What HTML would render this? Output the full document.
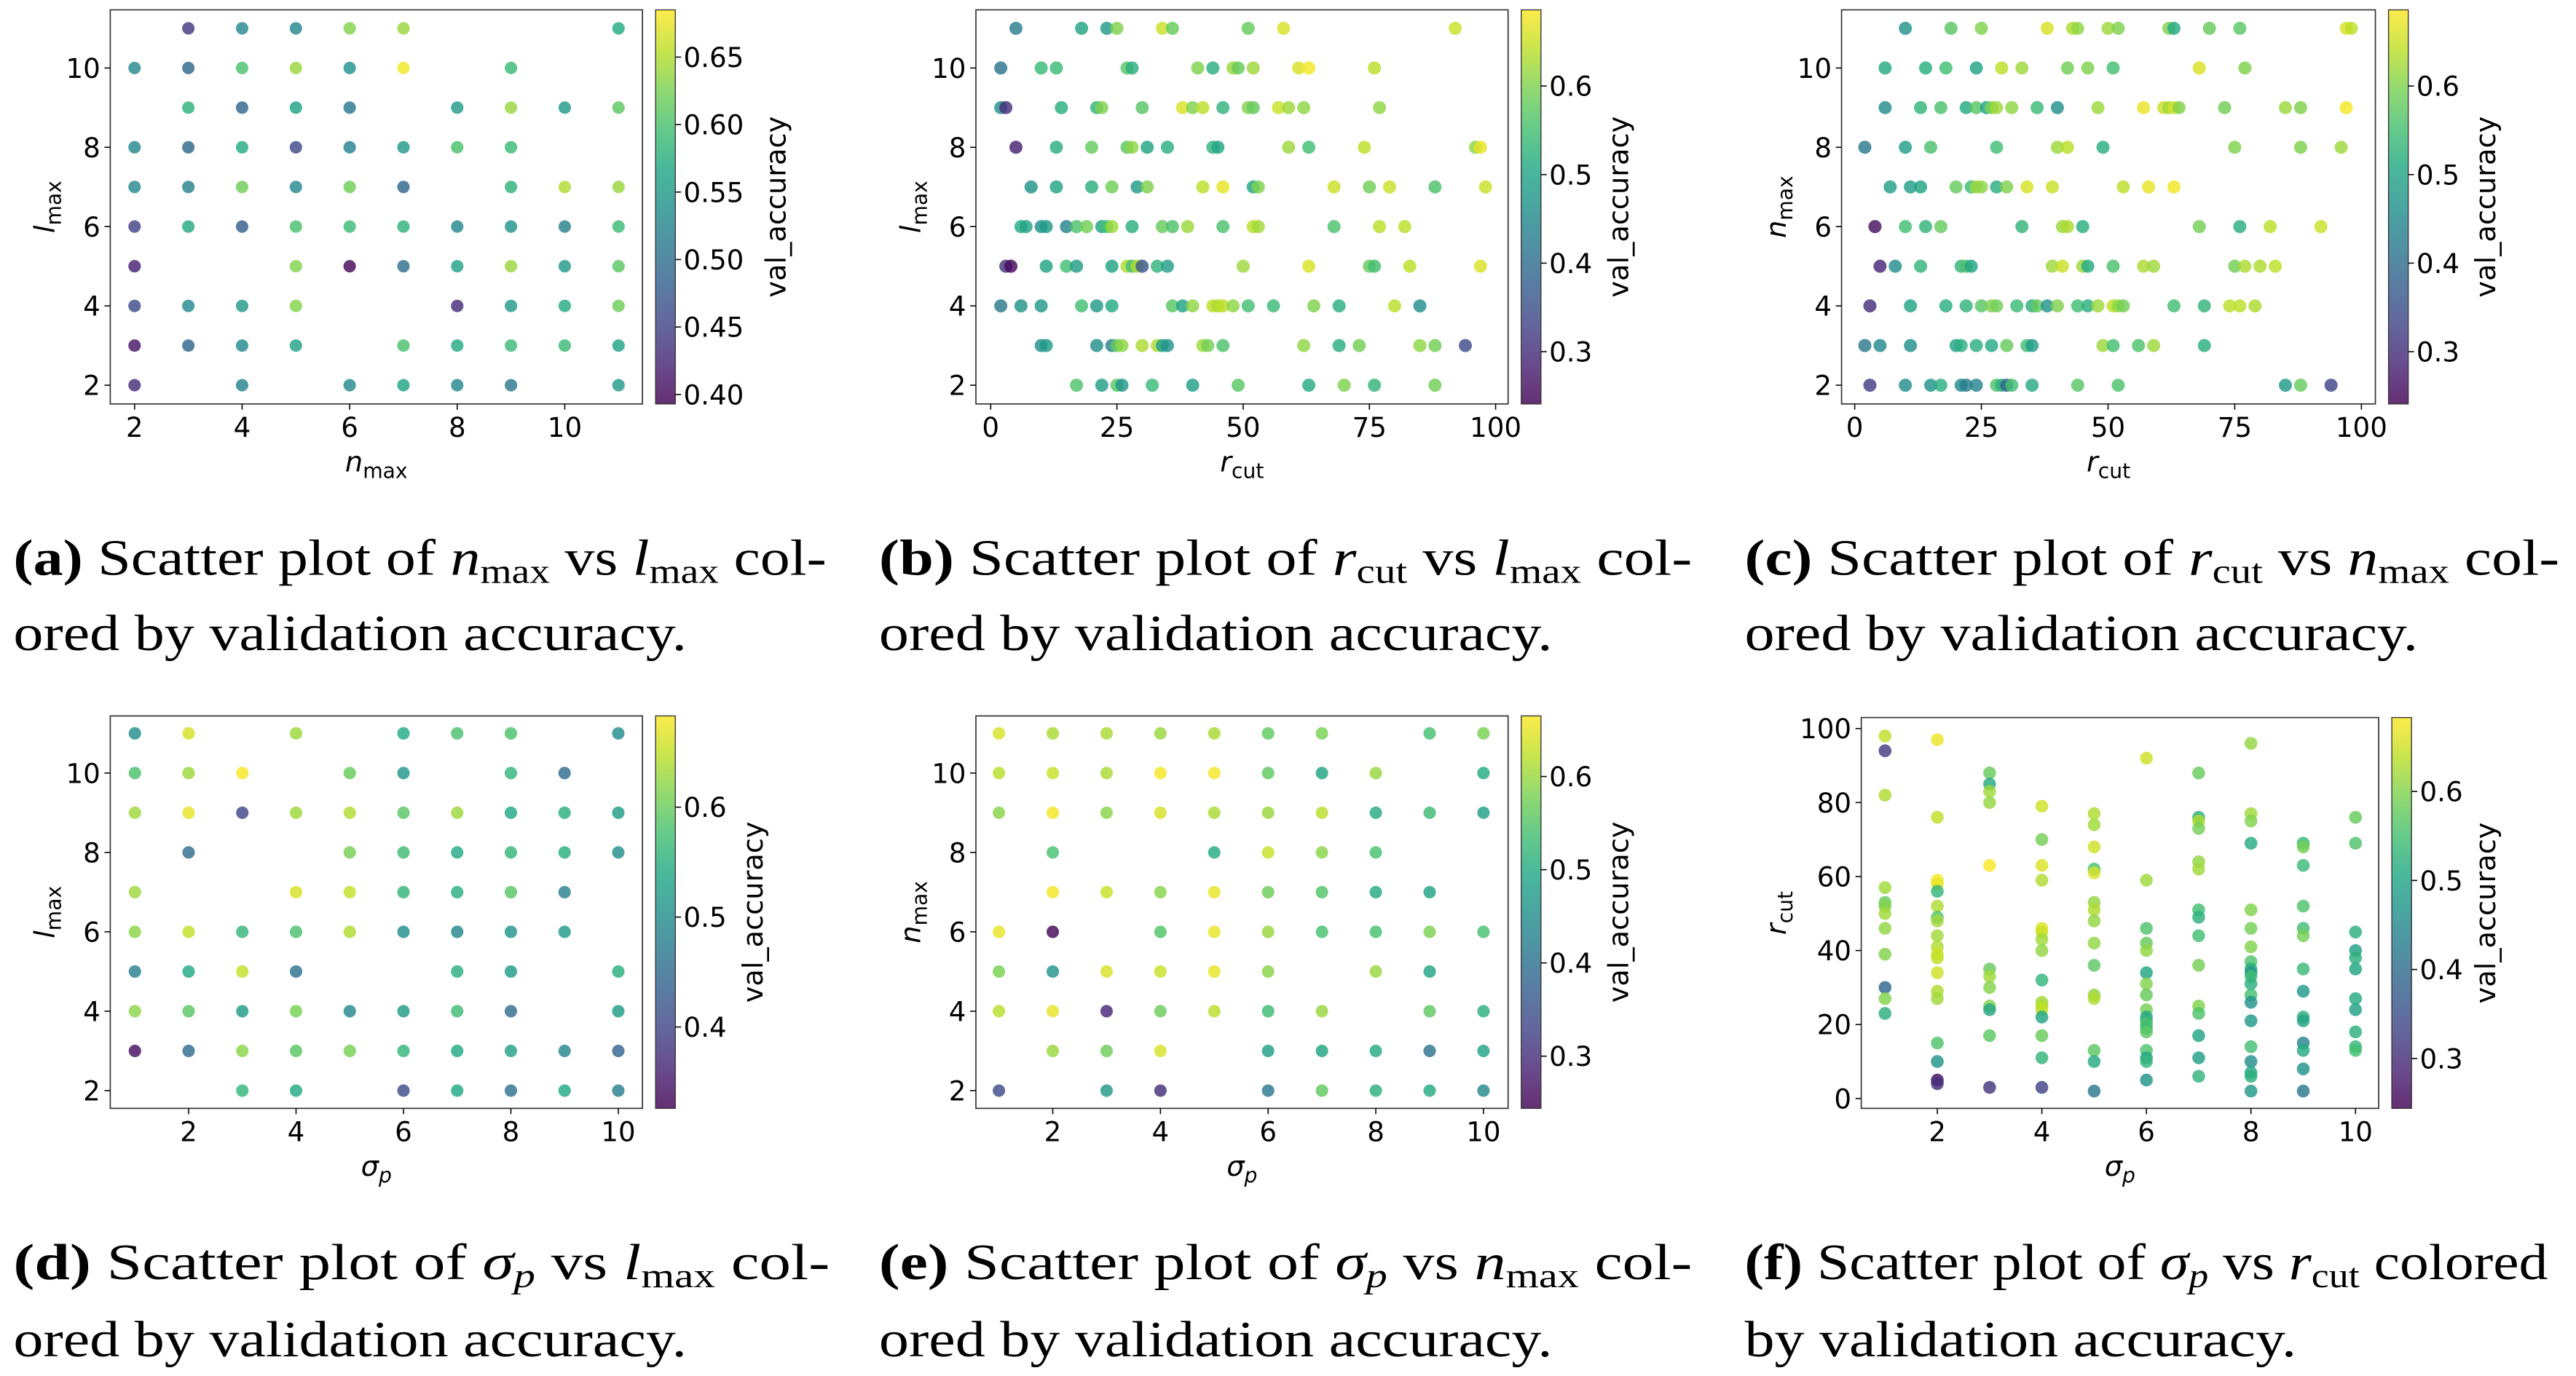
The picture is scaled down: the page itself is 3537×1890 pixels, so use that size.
<!DOCTYPE html>
<html><head><meta charset="utf-8">
<style>
html,body{margin:0;padding:0;background:#fff;}
svg{display:block;}
.tk{font-family:"DejaVu Sans","Liberation Sans",sans-serif;font-size:16.5px;fill:#000;}
.al{font-family:"DejaVu Sans","Liberation Sans",sans-serif;font-size:17px;fill:#000;}
.cap{font-family:"Liberation Serif",serif;font-size:31px;fill:#000;}
</style></head>
<body>
<svg id="fig" width="3537" height="1890" viewBox="0 0 1568 838" xmlns="http://www.w3.org/2000/svg">
<defs>
<linearGradient id="viridis" x1="0" y1="1" x2="0" y2="0">
<stop offset="0" stop-color="#440154"/><stop offset="0.1" stop-color="#482475"/><stop offset="0.2" stop-color="#414487"/><stop offset="0.3" stop-color="#355f8d"/><stop offset="0.4" stop-color="#2a788e"/><stop offset="0.5" stop-color="#21918c"/><stop offset="0.6" stop-color="#22a884"/><stop offset="0.7" stop-color="#44bf70"/><stop offset="0.8" stop-color="#7ad151"/><stop offset="0.9" stop-color="#bddf26"/><stop offset="1" stop-color="#fde725"/>
</linearGradient>
</defs>
<g id="plots"></g>

<text class="cap" x="8" y="350" textLength="495" lengthAdjust="spacingAndGlyphs"><tspan font-weight="bold">(a)</tspan> Scatter plot of <tspan font-style="italic">n</tspan><tspan font-size="21" dy="5">max</tspan><tspan dy="-5"> vs </tspan><tspan font-style="italic">l</tspan><tspan font-size="21" dy="5">max</tspan><tspan dy="-5"> col-</tspan></text>
<text class="cap" x="8" y="396" textLength="410" lengthAdjust="spacingAndGlyphs">ored by validation accuracy.</text>
<text class="cap" x="535" y="350" textLength="495" lengthAdjust="spacingAndGlyphs"><tspan font-weight="bold">(b)</tspan> Scatter plot of <tspan font-style="italic">r</tspan><tspan font-size="21" dy="5">cut</tspan><tspan dy="-5"> vs </tspan><tspan font-style="italic">l</tspan><tspan font-size="21" dy="5">max</tspan><tspan dy="-5"> col-</tspan></text>
<text class="cap" x="535" y="396" textLength="410" lengthAdjust="spacingAndGlyphs">ored by validation accuracy.</text>
<text class="cap" x="1062" y="350" textLength="496" lengthAdjust="spacingAndGlyphs"><tspan font-weight="bold">(c)</tspan> Scatter plot of <tspan font-style="italic">r</tspan><tspan font-size="21" dy="5">cut</tspan><tspan dy="-5"> vs </tspan><tspan font-style="italic">n</tspan><tspan font-size="21" dy="5">max</tspan><tspan dy="-5"> col-</tspan></text>
<text class="cap" x="1062" y="396" textLength="410" lengthAdjust="spacingAndGlyphs">ored by validation accuracy.</text>
<text class="cap" x="8" y="779" textLength="497" lengthAdjust="spacingAndGlyphs"><tspan font-weight="bold">(d)</tspan> Scatter plot of <tspan font-style="italic">σ</tspan><tspan font-size="21" font-style="italic" dy="5">p</tspan><tspan dy="-5"> vs </tspan><tspan font-style="italic">l</tspan><tspan font-size="21" dy="5">max</tspan><tspan dy="-5"> col-</tspan></text>
<text class="cap" x="8" y="826" textLength="410" lengthAdjust="spacingAndGlyphs">ored by validation accuracy.</text>
<text class="cap" x="535" y="779" textLength="495" lengthAdjust="spacingAndGlyphs"><tspan font-weight="bold">(e)</tspan> Scatter plot of <tspan font-style="italic">σ</tspan><tspan font-size="21" font-style="italic" dy="5">p</tspan><tspan dy="-5"> vs </tspan><tspan font-style="italic">n</tspan><tspan font-size="21" dy="5">max</tspan><tspan dy="-5"> col-</tspan></text>
<text class="cap" x="535" y="826" textLength="410" lengthAdjust="spacingAndGlyphs">ored by validation accuracy.</text>
<text class="cap" x="1062" y="779" textLength="489" lengthAdjust="spacingAndGlyphs"><tspan font-weight="bold">(f)</tspan> Scatter plot of <tspan font-style="italic">σ</tspan><tspan font-size="21" font-style="italic" dy="5">p</tspan><tspan dy="-5"> vs </tspan><tspan font-style="italic">r</tspan><tspan font-size="21" dy="5">cut</tspan><tspan dy="-5"> colored</tspan></text>
<text class="cap" x="1062" y="826" textLength="336" lengthAdjust="spacingAndGlyphs">by validation accuracy.</text>
</svg>
<script>
// ---- Panel (a): n_max vs l_max ----
const aX=[3,4,5,6,7,11, 2,3,4,5,6,7,9, 3,4,5,6,8,9,10,11, 2,3,4,5,6,7,8,9, 2,3,4,5,6,7,9,10,11, 2,3,4,5,6,7,8,9,10,11, 2,5,6,7,8,9,10,11, 2,3,4,5,8,9,10,11, 2,3,4,5,7,8,9,10,11, 2,4,6,7,8,9,11];
const aY=[11,11,11,11,11,11, 10,10,10,10,10,10,10, 9,9,9,9,9,9,9,9, 8,8,8,8,8,8,8,8, 7,7,7,7,7,7,7,7,7, 6,6,6,6,6,6,6,6,6,6, 5,5,5,5,5,5,5,5, 4,4,4,4,4,4,4,4, 3,3,3,3,3,3,3,3,3, 2,2,2,2,2,2,2];
const aC=[0.44,0.53,0.53,0.63,0.64,0.57, 0.53,0.49,0.60,0.64,0.54,0.68,0.59, 0.58,0.49,0.56,0.51,0.55,0.64,0.55,0.61, 0.53,0.49,0.57,0.46,0.52,0.55,0.60,0.59, 0.53,0.52,0.62,0.53,0.62,0.49,0.58,0.65,0.64, 0.45,0.57,0.48,0.60,0.59,0.58,0.53,0.54,0.52,0.59, 0.42,0.63,0.40,0.50,0.56,0.64,0.55,0.61, 0.46,0.53,0.55,0.63,0.43,0.55,0.57,0.62, 0.41,0.49,0.53,0.56,0.60,0.57,0.59,0.59,0.56, 0.43,0.52,0.53,0.56,0.53,0.51,0.55];
const aTicksX=[2,4,6,8,10], aTicksY=[2,4,6,8,10], aTicksC=[0.40,0.45,0.50,0.55,0.60,0.65];

// ---- Panel (b): r_cut vs l_max ----
const bX=[5,18,23,25,34,36,51,58,92, 2,10,13,27,28,41,44,48,49,52,61,63,76, 2,3,14,21,22,30,38,40,42,46,51,52,57,59,62,77, 5,13,20,27,28,31,35,44,45,59,63,74,96,97, 8,13,20,24,29,31,42,46,52,53,68,75,79,88,98, 6,7,10,11,15,17,19,22,23,24,28,34,36,39,46,52,53,68,77,82, 3,4,11,15,17,24,27,28,29,30,33,35,50,63,75,76,83,97, 2,6,10,18,21,24,36,38,40,44,45,46,48,51,56,64,69,80,85, 10,11,21,24,25,26,30,33,34,35,42,43,46,62,69,73,85,88,94, 17,22,25,26,32,40,49,63,70,76,88];
const bY=[11,11,11,11,11,11,11,11,11, 10,10,10,10,10,10,10,10,10,10,10,10,10, 9,9,9,9,9,9,9,9,9,9,9,9,9,9,9,9, 8,8,8,8,8,8,8,8,8,8,8,8,8,8, 7,7,7,7,7,7,7,7,7,7,7,7,7,7,7, 6,6,6,6,6,6,6,6,6,6,6,6,6,6,6,6,6,6,6,6, 5,5,5,5,5,5,5,5,5,5,5,5,5,5,5,5,5,5, 4,4,4,4,4,4,4,4,4,4,4,4,4,4,4,4,4,4,4, 3,3,3,3,3,3,3,3,3,3,3,3,3,3,3,3,3,3,3, 2,2,2,2,2,2,2,2,2,2,2];
const bC=[0.43,0.50,0.48,0.60,0.65,0.58,0.58,0.66,0.65, 0.41,0.54,0.54,0.57,0.52,0.60,0.52,0.62,0.58,0.62,0.66,0.68,0.64, 0.47,0.30,0.52,0.53,0.60,0.57,0.66,0.60,0.64,0.53,0.60,0.58,0.65,0.62,0.61,0.61, 0.28,0.52,0.58,0.57,0.61,0.50,0.52,0.53,0.50,0.62,0.55,0.64,0.61,0.67, 0.47,0.50,0.52,0.59,0.48,0.60,0.64,0.67,0.50,0.60,0.65,0.59,0.65,0.56,0.65, 0.51,0.50,0.46,0.48,0.44,0.56,0.59,0.50,0.55,0.62,0.52,0.58,0.56,0.62,0.56,0.64,0.62,0.56,0.64,0.64, 0.31,0.25,0.50,0.55,0.49,0.50,0.63,0.55,0.63,0.36,0.53,0.49,0.62,0.66,0.58,0.55,0.64,0.66, 0.42,0.47,0.48,0.55,0.48,0.51,0.57,0.50,0.61,0.64,0.63,0.64,0.61,0.55,0.54,0.60,0.52,0.64,0.46, 0.46,0.48,0.46,0.44,0.58,0.61,0.63,0.63,0.49,0.47,0.62,0.59,0.56,0.61,0.52,0.59,0.61,0.59,0.34, 0.56,0.49,0.57,0.47,0.54,0.49,0.57,0.51,0.60,0.53,0.59];
const bTicksX=[0,25,50,75,100], bTicksY=[2,4,6,8,10], bTicksC=[0.3,0.4,0.5,0.6];

// ---- Panel (c): r_cut vs n_max ----
const cX=[10,19,25,38,43,44,50,52,62,63,70,76,97,98, 6,14,18,24,29,33,42,46,51,68,77, 6,13,17,22,24,26,27,28,31,36,40,48,57,61,62,63,64,73,85,88,97, 2,10,15,28,40,42,49,75,88,96, 7,11,13,20,23,24,25,28,30,34,39,53,58,63, 4,10,14,17,33,41,42,45,68,76,82,92, 5,8,13,21,22,23,39,41,45,46,51,57,59,75,77,80,83, 3,11,18,22,25,27,28,32,35,36,38,40,44,46,48,51,52,53,63,69,74,76,79, 2,5,11,20,21,24,27,30,34,35,49,51,56,59,69, 3,10,15,17,21,22,24,28,29,30,31,35,44,52,85,88,94];
const cY=[11,11,11,11,11,11,11,11,11,11,11,11,11,11, 10,10,10,10,10,10,10,10,10,10,10, 9,9,9,9,9,9,9,9,9,9,9,9,9,9,9,9,9,9,9,9,9, 8,8,8,8,8,8,8,8,8,8, 7,7,7,7,7,7,7,7,7,7,7,7,7,7, 6,6,6,6,6,6,6,6,6,6,6,6, 5,5,5,5,5,5,5,5,5,5,5,5,5,5,5,5,5, 4,4,4,4,4,4,4,4,4,4,4,4,4,4,4,4,4,4,4,4,4,4,4, 3,3,3,3,3,3,3,3,3,3,3,3,3,3,3, 2,2,2,2,2,2,2,2,2,2,2,2,2,2,2,2,2];
const cC=[0.47,0.57,0.60,0.66,0.63,0.61,0.62,0.60,0.60,0.51,0.58,0.57,0.66,0.64, 0.51,0.52,0.55,0.50,0.64,0.62,0.59,0.60,0.55,0.66,0.60, 0.46,0.53,0.56,0.51,0.57,0.50,0.60,0.62,0.61,0.54,0.46,0.62,0.67,0.65,0.62,0.66,0.60,0.59,0.62,0.60,0.68, 0.42,0.49,0.56,0.55,0.62,0.64,0.52,0.60,0.60,0.62, 0.49,0.49,0.50,0.58,0.54,0.62,0.61,0.52,0.60,0.66,0.65,0.64,0.67,0.68, 0.26,0.55,0.53,0.58,0.53,0.62,0.63,0.52,0.59,0.52,0.64,0.65, 0.29,0.46,0.53,0.53,0.56,0.50,0.62,0.65,0.62,0.51,0.56,0.63,0.62,0.59,0.63,0.63,0.64, 0.30,0.50,0.52,0.53,0.57,0.60,0.59,0.54,0.52,0.58,0.47,0.60,0.55,0.52,0.62,0.64,0.61,0.59,0.55,0.53,0.64,0.64,0.63, 0.42,0.45,0.46,0.50,0.52,0.52,0.51,0.58,0.55,0.48,0.62,0.55,0.56,0.62,0.52, 0.32,0.46,0.47,0.52,0.45,0.43,0.44,0.56,0.52,0.38,0.55,0.51,0.57,0.56,0.48,0.58,0.33];
const cTicksX=[0,25,50,75,100], cTicksY=[2,4,6,8,10], cTicksC=[0.3,0.4,0.5,0.6];

// ---- Panel (d): sigma_p vs l_max ----
const dX=[1,2,4,6,7,8,10, 1,2,3,5,6,8,9, 1,2,3,4,5,6,7,8,9,10, 2,5,6,7,8,9,10, 1,4,5,6,7,8,9, 1,2,3,4,5,6,7,8,9, 1,2,3,4,7,8,10, 1,2,3,4,5,6,7,8,10, 1,2,3,4,5,6,7,8,9,10, 3,4,6,7,8,9,10];
const dY=[11,11,11,11,11,11,11, 10,10,10,10,10,10,10, 9,9,9,9,9,9,9,9,9,9, 8,8,8,8,8,8,8, 7,7,7,7,7,7,7, 6,6,6,6,6,6,6,6,6, 5,5,5,5,5,5,5, 4,4,4,4,4,4,4,4,4, 3,3,3,3,3,3,3,3,3,3, 2,2,2,2,2,2,2];
const dC=[0.50,0.66,0.63,0.54,0.58,0.58,0.50, 0.58,0.63,0.68,0.60,0.51,0.56,0.45, 0.63,0.67,0.40,0.63,0.64,0.59,0.63,0.54,0.55,0.52, 0.45,0.61,0.57,0.54,0.56,0.55,0.50, 0.63,0.66,0.65,0.56,0.55,0.59,0.48, 0.62,0.65,0.56,0.58,0.64,0.50,0.49,0.51,0.52, 0.48,0.54,0.65,0.46,0.55,0.52,0.55, 0.62,0.59,0.52,0.61,0.49,0.52,0.57,0.45,0.52, 0.34,0.45,0.62,0.59,0.61,0.56,0.54,0.53,0.49,0.44, 0.56,0.54,0.41,0.54,0.46,0.54,0.48];
const dTicksX=[2,4,6,8,10], dTicksY=[2,4,6,8,10], dTicksC=[0.4,0.5,0.6];

// ---- Panel (e): sigma_p vs n_max ----
const eX=[1,2,3,4,5,6,7,9,10, 1,2,3,4,5,6,7,8,10, 1,2,3,4,5,6,7,8,9,10, 2,5,6,7,8, 2,3,4,5,6,7,8,9, 1,2,4,5,6,7,8,9,10, 1,2,3,4,5,6,8,9, 1,2,3,4,5,6,7,9,10, 2,3,4,6,7,8,9,10, 1,3,4,6,7,8,9,10];
const eY=[11,11,11,11,11,11,11,11,11, 10,10,10,10,10,10,10,10,10, 9,9,9,9,9,9,9,9,9,9, 8,8,8,8,8, 7,7,7,7,7,7,7,7, 6,6,6,6,6,6,6,6,6, 5,5,5,5,5,5,5,5, 4,4,4,4,4,4,4,4,4, 3,3,3,3,3,3,3,3, 2,2,2,2,2,2,2,2];
const eC=[0.64,0.61,0.61,0.60,0.61,0.56,0.58,0.54,0.58, 0.62,0.63,0.61,0.66,0.66,0.56,0.49,0.60,0.50, 0.59,0.66,0.59,0.64,0.61,0.60,0.62,0.50,0.53,0.48, 0.54,0.50,0.63,0.59,0.54, 0.66,0.63,0.59,0.65,0.57,0.55,0.50,0.49, 0.65,0.25,0.55,0.65,0.60,0.54,0.54,0.58,0.54, 0.58,0.46,0.64,0.63,0.65,0.59,0.60,0.49, 0.62,0.65,0.29,0.57,0.62,0.53,0.60,0.56,0.51, 0.60,0.57,0.64,0.48,0.49,0.50,0.40,0.49, 0.34,0.47,0.30,0.41,0.56,0.51,0.50,0.44];
const eTicksX=[2,4,6,8,10], eTicksY=[2,4,6,8,10], eTicksC=[0.3,0.4,0.5,0.6];

// ---- Panel (f): sigma_p vs r_cut ----
const fX=[1,1,1,1,1,1,1,1,1,1,1,1, 2,2,2,2,2,2,2,2,2,2,2,2,2,2,2,2,2,2,2, 3,3,3,3,3,3,3,3,3,3,3,3, 4,4,4,4,4,4,4,4,4,4,4,4,4,4,4,4, 5,5,5,5,5,5,5,5,5,5,5,5,5,5,5, 6,6,6,6,6,6,6,6,6,6,6,6,6,6,6,6,6,6, 7,7,7,7,7,7,7,7,7,7,7,7,7,7,7, 8,8,8,8,8,8,8,8,8,8,8,8,8,8,8,8,8,8,8,8, 9,9,9,9,9,9,9,9,9,9,9,9,9,9, 10,10,10,10,10,10,10,10,10,10,10];
const fY=[98,94,82,57,53,52,50,46,39,30,27,23, 97,76,59,58,56,52,49,48,44,41,39,38,34,29,27,15,10,5,4, 88,85,83,80,63,35,33,30,25,24,17,3, 79,70,63,59,46,45,43,40,32,26,25,24,22,17,11,3, 77,74,68,62,61,53,51,48,42,36,28,27,13,10,2, 92,59,46,42,40,34,31,28,24,22,21,20,19,18,13,11,10,5, 88,76,75,73,64,62,51,49,44,36,25,23,17,11,6, 96,77,75,69,51,46,41,37,35,34,33,31,28,26,21,14,10,7,6,2, 69,68,63,52,46,44,35,29,22,21,15,13,8,2, 76,69,45,40,38,35,27,24,18,14,13];
const fC=[0.64,0.32,0.63,0.62,0.58,0.60,0.62,0.61,0.60,0.39,0.60,0.52, 0.67,0.64,0.68,0.67,0.53,0.63,0.56,0.62,0.62,0.63,0.65,0.64,0.65,0.63,0.62,0.56,0.47,0.26,0.30, 0.58,0.51,0.62,0.61,0.68,0.58,0.62,0.60,0.60,0.50,0.57,0.31, 0.65,0.59,0.66,0.63,0.66,0.65,0.62,0.61,0.53,0.62,0.63,0.64,0.50,0.58,0.53,0.33, 0.63,0.62,0.65,0.55,0.66,0.61,0.63,0.61,0.61,0.57,0.61,0.63,0.57,0.51,0.42, 0.65,0.62,0.56,0.58,0.61,0.50,0.60,0.58,0.59,0.50,0.53,0.56,0.54,0.57,0.56,0.50,0.53,0.47, 0.58,0.52,0.63,0.59,0.61,0.62,0.55,0.52,0.55,0.59,0.60,0.56,0.50,0.49,0.53, 0.61,0.62,0.60,0.51,0.60,0.59,0.60,0.56,0.52,0.47,0.55,0.52,0.55,0.47,0.48,0.55,0.46,0.51,0.52,0.48, 0.53,0.59,0.54,0.56,0.55,0.59,0.54,0.48,0.52,0.50,0.44,0.51,0.47,0.42, 0.58,0.56,0.52,0.49,0.52,0.50,0.51,0.49,0.52,0.53,0.55];
const fTicksX=[2,4,6,8,10], fTicksY=[0,20,40,60,80,100], fTicksC=[0.3,0.4,0.5,0.6];

const NS='http://www.w3.org/2000/svg';
const VIR=['#440154','#482475','#414487','#355f8d','#2a788e','#21918c','#22a884','#44bf70','#7ad151','#bddf26','#fde725'];
function hex(h){return [parseInt(h.slice(1,3),16),parseInt(h.slice(3,5),16),parseInt(h.slice(5,7),16)];}
function viridis(t){t=Math.max(0,Math.min(1,t));const p=t*10,i=Math.min(9,Math.floor(p)),f=p-i;const a=hex(VIR[i]),b=hex(VIR[i+1]);return 'rgb('+a.map((v,k)=>Math.round(v+(b[k]-v)*f)).join(',')+')';}
function mk(tag,attrs,parent){const e=document.createElementNS(NS,tag);for(const k in attrs)e.setAttribute(k,attrs[k]);parent.appendChild(e);return e;}
function linear(d0,d1,r0,r1){return v=>r0+(v-d0)*(r1-r0)/(d1-d0);}
function lab(el,main,sub,subItalic){
  const t1=document.createElementNS(NS,'tspan');t1.setAttribute('font-style','italic');t1.textContent=main;el.appendChild(t1);
  const t2=document.createElementNS(NS,'tspan');t2.setAttribute('font-size','12.5');t2.setAttribute('dy','4');if(subItalic)t2.setAttribute('font-style','italic');t2.textContent=sub;el.appendChild(t2);
}
const root=document.getElementById('plots');
function panel(id,cfg,xs,ys,cs,tx,ty,tc){
  const g=mk('g',{},root);
  
  
  const [L,T,R,B]=cfg.frame;
  const sx=linear(cfg.xd[0],cfg.xd[1],cfg.xr[0],cfg.xr[1]);
  const sy=linear(cfg.yd[0],cfg.yd[1],cfg.yr[0],cfg.yr[1]);
  const sc=v=>(v-cfg.cmin)/(cfg.cmax-cfg.cmin);
  const pg=mk('g',{'fill-opacity':'0.82'},g);
  
  
  for(let i=0;i<xs.length;i++){
    const c=mk('ellipse',{cx:sx(xs[i]).toFixed(2),cy:sy(ys[i]).toFixed(2),rx:cfg.r,ry:cfg.r,fill:viridis(sc(cs[i]))},pg);
    
    
  }
  const fr=mk('rect',{x:L,y:T,width:R-L,height:B-T,fill:'none',stroke:'#333','stroke-width':'0.75'},g);
  
  
  tx.forEach(v=>{const x=sx(v);mk('line',{x1:x,y1:B,x2:x,y2:B+3.5,stroke:'#000','stroke-width':'0.7'},g);
    const t=mk('text',{x:x,y:B+20,'text-anchor':'middle',class:'tk'},g);t.textContent=String(v);
    
    });
  ty.forEach(v=>{const y=sy(v);mk('line',{x1:L-3.5,y1:y,x2:L,y2:y,stroke:'#000','stroke-width':'0.7'},g);
    const t=mk('text',{x:L-6,y:y+6,'text-anchor':'end',class:'tk'},g);t.textContent=String(v);
    
    });
  const xl=mk('text',{x:(L+R)/2,y:B+41,'text-anchor':'middle',class:'al'},g);lab(xl,cfg.xl[0],cfg.xl[1],cfg.xl[2]);
  
  
  const yl=mk('text',{x:0,y:0,'text-anchor':'middle',class:'al',transform:'translate('+cfg.ylx+','+((T+B)/2)+') rotate(-90)'},g);lab(yl,cfg.yl[0],cfg.yl[1],false);
  
  
  const [c0,c1]=cfg.cb;
  const cb=mk('rect',{x:c0,y:T,width:c1-c0,height:B-T,fill:'url(#viridis)','fill-opacity':'0.82',stroke:'#333','stroke-width':'0.6'},g);
  
  
  const cy=linear(cfg.cmin,cfg.cmax,B,T);
  tc.forEach(v=>{const y=cy(v);mk('line',{x1:c1,y1:y,x2:c1+3.5,y2:y,stroke:'#000','stroke-width':'0.7'},g);
    const t=mk('text',{x:c1+5,y:y+6,class:'tk'},g);t.textContent=v.toFixed(cfg.cdec);
    
    });
  const cl=mk('text',{x:0,y:0,'text-anchor':'middle',class:'al',transform:'translate('+cfg.cblx+','+((T+B)/2)+') rotate(-90)'},g);cl.textContent='val_accuracy';
  
  
}
panel('a',{frame:[67,6,391,246],xd:[2,10],xr:[81.8,343.7],yd:[2,10],yr:[234.6,41.4],r:3.8,cmin:0.393,cmax:0.685,cb:[399,411],cdec:2,cblx:478,ylx:33,xl:['n','max',false],yl:['l','max']},aX,aY,aC,aTicksX,aTicksY,aTicksC);
panel('b',{frame:[594,6,918,246],xd:[0,100],xr:[603,910.4],yd:[2,10],yr:[234.6,41.4],r:4.0,cmin:0.241,cmax:0.686,cb:[926,938],cdec:1,cblx:991,ylx:560,xl:['r','cut',false],yl:['l','max']},bX,bY,bC,bTicksX,bTicksY,bTicksC);
panel('c',{frame:[1121,6,1446,246],xd:[0,100],xr:[1129,1437.5],yd:[2,10],yr:[234.6,41.4],r:4.0,cmin:0.241,cmax:0.686,cb:[1454,1466],cdec:1,cblx:1519,ylx:1087,xl:['r','cut',false],yl:['n','max']},cX,cY,cC,cTicksX,cTicksY,cTicksC);
panel('d',{frame:[67,436,391,675],xd:[2,10],xr:[114.7,376.3],yd:[2,10],yr:[664.2,470.8],r:3.8,cmin:0.326,cmax:0.683,cb:[399,411],cdec:1,cblx:464,ylx:33,xl:['σ','p',true],yl:['l','max']},dX,dY,dC,dTicksX,dTicksY,dTicksC);
panel('e',{frame:[594,436,918,675],xd:[2,10],xr:[640.8,903],yd:[2,10],yr:[664.2,470.8],r:3.8,cmin:0.244,cmax:0.665,cb:[926,938],cdec:1,cblx:991,ylx:560,xl:['σ','p',true],yl:['n','max']},eX,eY,eC,eTicksX,eTicksY,eTicksC);
panel('f',{frame:[1133,437,1448,675],xd:[2,10],xr:[1179.3,1433.9],yd:[0,100],yr:[669,443.7],r:3.9,cmin:0.244,cmax:0.683,cb:[1456,1468],cdec:1,cblx:1519,ylx:1087,xl:['σ','p',true],yl:['r','cut']},fX,fY,fC,fTicksX,fTicksY,fTicksC);
</script>
</body></html>
